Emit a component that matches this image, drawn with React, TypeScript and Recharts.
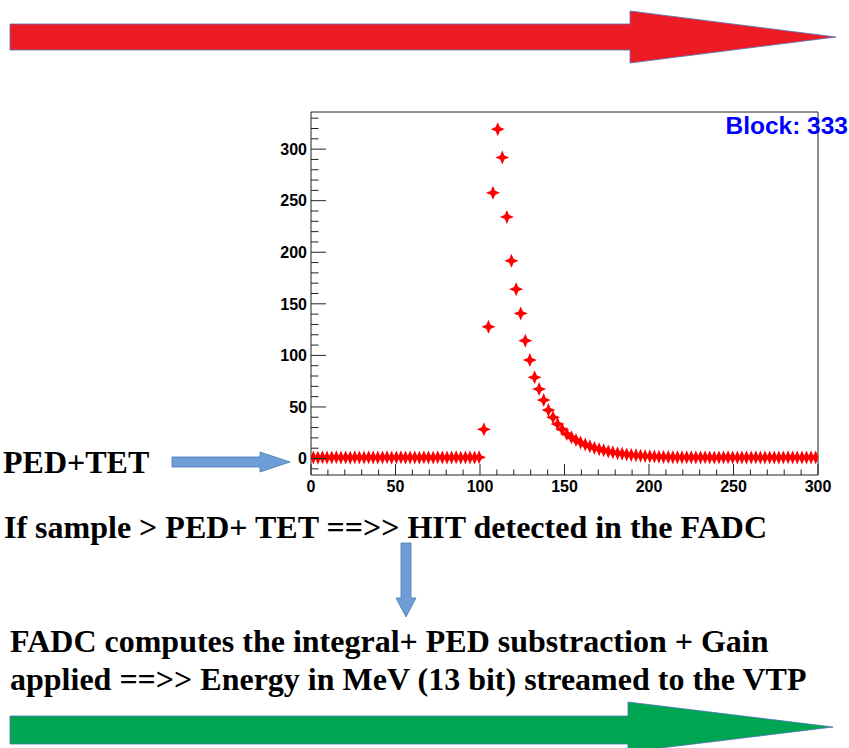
import React from "react";
import {
  ScatterChart,
  Scatter,
  XAxis,
  YAxis,
  ReferenceLine,
} from "recharts";

// FADC sample times (bin centres) and the pulse amplitude per sample
const sampleTime = [
  1.4, 4.1, 6.8, 9.5, 12.3, 15.0, 17.7, 20.5, 23.2, 25.9,
  28.6, 31.4, 34.1, 36.8, 39.5, 42.3, 45.0, 47.7, 50.5, 53.2,
  55.9, 58.6, 61.4, 64.1, 66.8, 69.5, 72.3, 75.0, 77.7, 80.5,
  83.2, 85.9, 88.6, 91.4, 94.1, 96.8, 99.5, 102.3, 105.0, 107.7,
  110.5, 113.2, 115.9, 118.6, 121.4, 124.1, 126.8, 129.5, 132.3, 135.0,
  137.7, 140.5, 143.2, 145.9, 148.6, 151.4, 154.1, 156.8, 159.5, 162.3,
  165.0, 167.7, 170.5, 173.2, 175.9, 178.6, 181.4, 184.1, 186.8, 189.5,
  192.3, 195.0, 197.7, 200.5, 203.2, 205.9, 208.6, 211.4, 214.1, 216.8,
  219.5, 222.3, 225.0, 227.7, 230.5, 233.2, 235.9, 238.6, 241.4, 244.1,
  246.8, 249.5, 252.3, 255.0, 257.7, 260.5, 263.2, 265.9, 268.6, 271.4,
  274.1, 276.8, 279.5, 282.3, 285.0, 287.7, 290.5, 293.2, 295.9, 298.6,
];

const amplitude = [
  1.0, 0.8, 1.1, 0.9, 1.0, 1.2, 0.9, 1.0, 0.8, 1.1,
  1.0, 0.9, 1.1, 1.0, 0.9, 1.0, 1.2, 0.8, 1.0, 1.1,
  0.9, 1.0, 1.0, 0.8, 1.1, 1.0, 0.9, 1.2, 1.0, 0.9,
  1.0, 1.1, 0.8, 1.0, 1.0, 0.9, 1.1, 28.3, 127.7, 257.6,
  319.3, 291.9, 234.3, 191.7, 164.2, 140.7, 114.3, 95.4, 78.7, 67.3,
  56.7, 47.0, 39.9, 33.4, 28.3, 23.7, 20.5, 17.9, 15.5, 13.5,
  11.8, 10.3, 9.0, 7.9, 6.9, 6.0, 5.2, 4.6, 4.0, 3.5,
  3.1, 2.7, 2.4, 2.1, 1.9, 1.7, 1.5, 1.4, 1.3, 1.2,
  1.2, 1.1, 1.1, 1.0, 1.0, 1.1, 1.0, 0.9, 1.0, 1.0,
  1.1, 1.0, 0.9, 1.0, 1.0, 1.0, 1.1, 0.9, 1.0, 1.0,
  1.0, 0.9, 1.0, 1.1, 1.0, 1.0, 0.9, 1.0, 1.0, 1.0,
];

const xTicks = [
  0, 10, 20, 30, 40, 50, 60, 70, 80, 90, 100, 110, 120, 130, 140, 150,
  160, 170, 180, 190, 200, 210, 220, 230, 240, 250, 260, 270, 280, 290, 300,
];
const yTicks = [
  -10, 0, 10, 20, 30, 40, 50, 60, 70, 80, 90, 100, 110, 120, 130, 140, 150,
  160, 170, 180, 190, 200, 210, 220, 230, 240, 250, 260, 270, 280, 290, 300,
  310, 320, 330,
];

const points = sampleTime.map((t, i) => ({ x: t, y: amplitude[i] }));

const axisColor = "#222";
const labelFont = "'Liberation Sans', Arial, sans-serif";
const textFont = "'Liberation Serif', 'Times New Roman', serif";

const Star = (props: any) => {
  const { cx, cy } = props;
  if (cx == null || cy == null) return null;
  const r = 7;
  const d = 2.1;
  const p = [
    [0, -r], [d, -d], [r, 0], [d, d], [0, r], [-d, d], [-r, 0], [-d, -d],
  ]
    .map(([a, b]) => `${cx + a},${cy + b}`)
    .join(" ");
  return <polygon points={p} fill="#ff0000" />;
};

const YTick = (props: any) => {
  const { x, y, payload } = props;
  const v = payload.value;
  const major = v % 50 === 0;
  return (
    <g>
      <line x1={x} y1={y} x2={x + (major ? 15 : 7.5)} y2={y} stroke={axisColor} />
      {major && (
        <text
          x={x - 4}
          y={y + 5.8}
          textAnchor="end"
          fontFamily={labelFont}
          fontWeight="bold"
          fontSize={16}
          fill="#000"
        >
          {v}
        </text>
      )}
    </g>
  );
};

const XTick = (props: any) => {
  const { x, y, payload } = props;
  const v = payload.value;
  const major = v % 50 === 0;
  return (
    <g>
      <line x1={x} y1={y} x2={x} y2={y - (major ? 11 : 5.5)} stroke={axisColor} />
      {major && (
        <text
          x={x}
          y={y + 16.7}
          textAnchor="middle"
          fontFamily={labelFont}
          fontWeight="bold"
          fontSize={16}
          fill="#000"
        >
          {v}
        </text>
      )}
    </g>
  );
};

const textStyle = {
  fontFamily: textFont,
  fontWeight: "bold" as const,
  fontSize: 32,
  fill: "#000",
};

export default function App() {
  return (
    <div
      style={{
        position: "absolute",
        left: 0,
        top: 0,
        width: 849,
        height: 748,
        background: "#fff",
        overflow: "hidden",
      }}
    >
      <div style={{ position: "absolute", left: 0, top: 0 }}>
        <ScatterChart
          width={849}
          height={748}
          margin={{ top: 112, right: 31, bottom: 272, left: 310 }}
        >
          <XAxis
            type="number"
            dataKey="x"
            domain={[0, 300]}
            ticks={xTicks}
            interval={0}
            height={1}
            tickSize={0}
            tickMargin={0}
            tickLine={false}
            tick={<XTick />}
            stroke={axisColor}
            allowDataOverflow
          />
          <YAxis
            type="number"
            dataKey="y"
            domain={[-16, 336]}
            ticks={yTicks}
            interval={0}
            width={1}
            tickSize={0}
            tickMargin={0}
            tickLine={false}
            tick={<YTick />}
            stroke={axisColor}
            allowDataOverflow
          />
          <ReferenceLine y={336} stroke={axisColor} />
          <ReferenceLine x={300} stroke={axisColor} />
          <Scatter data={points} shape={<Star />} isAnimationActive={false} />
        </ScatterChart>
      </div>
      <svg
        width={849}
        height={748}
        style={{ position: "absolute", left: 0, top: 0, pointerEvents: "none" }}
      >
        {/* top red arrow */}
        <polygon
          points="10,24 630,24 630,11 836,37 630,63 630,50 10,50"
          fill="#ed1c24"
          stroke="#4f74b8"
          strokeWidth={0.8}
        />
        {/* bottom green arrow */}
        <polygon
          points="10,716 628,716 628,702 833,727 628,752 628,744 10,744"
          fill="#00a551"
          stroke="#4f74b8"
          strokeWidth={0.8}
        />
        {/* PED+TET arrow */}
        <polygon
          points="172,457 260,457 260,452 290,462 260,472 260,467 172,467"
          fill="#6f9ed6"
          stroke="#4a78b5"
          strokeWidth={0.8}
        />
        {/* vertical arrow */}
        <polygon
          points="401,543 411,543 411,598 416,598 406,617 396,598 401,598"
          fill="#6f9ed6"
          stroke="#4a78b5"
          strokeWidth={0.8}
        />
        <text
          x={848}
          y={133.5}
          textAnchor="end"
          fontFamily={labelFont}
          fontWeight="bold"
          fontSize={24.5}
          fill="#0000ff"
        >
          Block: 333
        </text>
        <text x={3} y={473} {...textStyle}>
          PED+TET
        </text>
        <text x={4} y={538} {...textStyle}>
          If sample &gt; PED+ TET ==&gt;&gt; HIT detected in the FADC
        </text>
        <text x={10} y={652} {...textStyle}>
          FADC computes the integral+ PED substraction + Gain
        </text>
        <text x={10} y={690} {...textStyle}>
          applied ==&gt;&gt; Energy in MeV (13 bit) streamed to the VTP
        </text>
      </svg>
    </div>
  );
}
